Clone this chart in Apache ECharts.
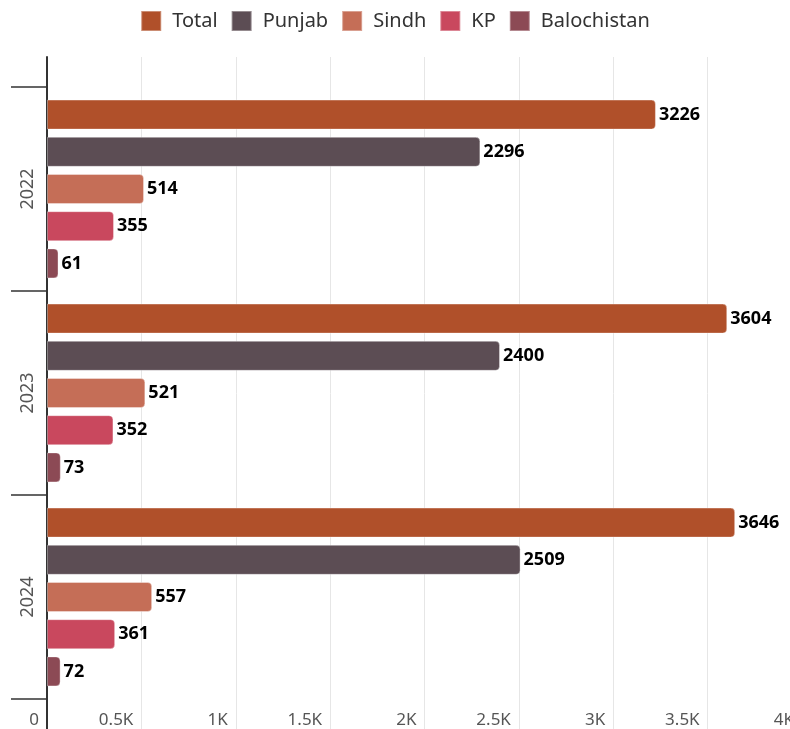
<!DOCTYPE html>
<html>
<head>
<meta charset="utf-8">
<script src="https://cdn.jsdelivr.net/npm/echarts@6/dist/echarts.min.js"></script>
<style>html,body{margin:0;padding:0;background:#fff;}#c{width:790px;height:729px;}</style>
</head>
<body>
<div id="c"></div>
<script>
var categories = ['2022', '2023', '2024'];
var seriesNames = ['Total', 'Punjab', 'Sindh', 'KP', 'Balochistan'];
var total = [3226, 3604, 3646];
var punjab = [2296, 2400, 2509];
var sindh = [514, 521, 557];
var kp = [355, 352, 361];
var balochistan = [61, 73, 72];
var xTickLabels = ['0', '0.5K', '1K', '1.5K', '2K', '2.5K', '3K', '3.5K', '4K'];
var colors = ['#B0502A', '#5C4D54', '#C56E57', '#C9485E', '#8C4A55'];
var seriesValues = [total, punjab, sindh, kp, balochistan];

var FONT = '"Noto Sans", sans-serif';
var chart = echarts.init(document.getElementById('c'), null, {renderer: 'canvas'});
var series = seriesNames.map(function (n, i) {
  return {
    name: n,
    type: 'bar',
    xAxisIndex: 1,
    yAxisIndex: 1,
    data: seriesValues[i],
    barWidth: 30,
    barGap: '24%',
    itemStyle: {color: colors[i], borderRadius: [0, 4, 4, 0], borderColor: 'rgba(255,255,255,0.35)', borderWidth: 1},
    label: {show: true, position: 'right', distance: 3, color: '#000', fontWeight: 'bold', fontSize: 18, fontFamily: FONT},
    emphasis: {disabled: true},
    animation: false
  };
});
chart.setOption({
  animation: false,
  color: colors,
  legend: {
    top: 5,
    left: 'center',
    itemWidth: 20,
    itemHeight: 20,
    itemGap: 13,
    icon: 'rect',
    textStyle: {fontSize: 20, color: '#333', fontFamily: FONT, padding: [0, 0, 0, 6]},
    data: seriesNames
  },
  grid: [
    {left: 47, width: 755, top: 57, bottom: -5, containLabel: false, outerBoundsMode: 'none'},
    {left: 47, width: 755, top: 87, height: 612, containLabel: false, outerBoundsMode: 'none'}
  ],
  xAxis: [
    {
      gridIndex: 0, type: 'value', min: 0, max: 4000, interval: 500, position: 'bottom',
      axisLine: {show: false}, axisTick: {show: false},
      splitLine: {show: true, lineStyle: {color: '#e6e6e6', width: 1}},
      axisLabel: {
        inside: true, margin: 5, align: 'right', padding: [0, 8, 0, 0],
        fontSize: 17, color: '#555', fontFamily: FONT,
        formatter: function (v) { return xTickLabels[Math.round(v / 500)]; }
      }
    },
    {gridIndex: 1, type: 'value', min: 0, max: 4000, show: false, splitLine: {show: false}}
  ],
  yAxis: [
    {
      gridIndex: 0, type: 'value', min: 0, max: 1,
      axisLine: {show: true, lineStyle: {color: '#333', width: 2}},
      axisTick: {show: false}, axisLabel: {show: false}, splitLine: {show: false}
    },
    {
      gridIndex: 1, type: 'category', data: categories, inverse: true,
      axisLine: {show: false},
      axisTick: {show: true, length: 36, lineStyle: {color: '#333', width: 1.5}},
      axisLabel: {rotate: 90, margin: 10, fontSize: 18, color: '#555', fontFamily: FONT},
      splitLine: {show: false}
    }
  ],
  series: series
});
</script>
</body>
</html>
